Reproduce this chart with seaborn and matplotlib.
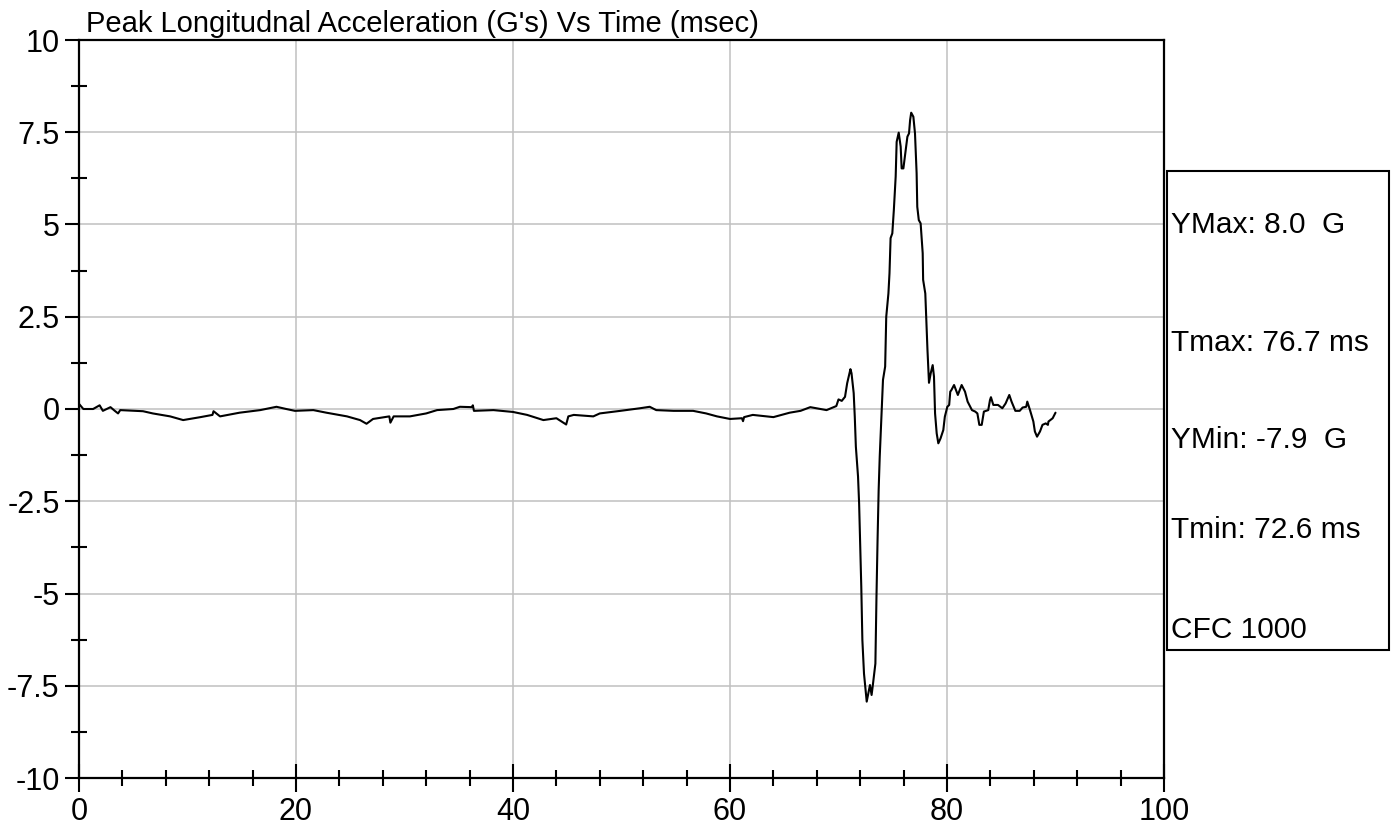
import numpy as np
import pandas as pd
import seaborn as sns
import matplotlib.pyplot as plt
from matplotlib.patches import Rectangle
from matplotlib.ticker import MultipleLocator, FuncFormatter

# Time (msec) and acceleration (G), in three stretches
# pre-impact baseline
t_base = [
    0.0, 0.4, 1.3, 1.9, 2.2, 2.9, 3.3, 3.6, 3.8, 5.9,
    6.8, 8.4, 9.6, 10.2, 11.2, 12.3, 12.4, 13.0, 14.8, 16.7,
    18.2, 19.1, 19.9, 21.6, 22.8, 24.7, 25.9, 26.5, 27.1, 28.6,
    28.7, 29.0, 30.5, 32.0, 33.0, 34.5, 35.1, 36.2, 36.3, 36.4,
    38.2, 40.0, 41.3, 42.8, 44.0, 44.9, 45.1, 45.6, 47.4, 48.0,
    49.9, 51.7, 52.6, 53.2, 54.8, 56.6, 57.8, 58.8, 60.0, 61.1,
    61.2, 61.3, 62.1, 64.0, 65.5, 66.5, 67.4, 68.9, 69.8, 70.0]
g_base = [
    0.14, 0.00, 0.00, 0.10, -0.05, 0.05, -0.05, -0.12, -0.03, -0.06,
    -0.12, -0.20, -0.30, -0.27, -0.22, -0.16, -0.06, -0.20, -0.10, -0.03,
    0.06, 0.00, -0.05, -0.03, -0.10, -0.20, -0.30, -0.40, -0.27, -0.20,
    -0.37, -0.20, -0.20, -0.12, -0.03, 0.00, 0.06, 0.05, 0.10, -0.05,
    -0.03, -0.08, -0.16, -0.30, -0.25, -0.42, -0.20, -0.16, -0.20, -0.12,
    -0.05, 0.02, 0.06, -0.03, -0.05, -0.05, -0.12, -0.20, -0.27, -0.25,
    -0.33, -0.22, -0.16, -0.22, -0.10, -0.05, 0.05, -0.03, 0.08, 0.26]

# main pulse
t_pulse = [
    70.3, 70.6, 70.8, 71.1, 71.2, 71.4, 71.5, 71.6, 71.8, 71.9,
    72.0, 72.1, 72.2, 72.35, 72.6, 72.75, 72.9, 73.05, 73.15, 73.4,
    73.5, 73.6, 73.7, 73.8, 73.97, 74.1, 74.3, 74.4, 74.6, 74.7,
    74.8, 74.96, 75.1, 75.27, 75.36, 75.55, 75.73, 75.82, 75.98, 76.2,
    76.35, 76.5, 76.6, 76.7, 76.9, 77.05, 77.2, 77.26, 77.4, 77.57,
    77.76, 77.8, 78.0, 78.2, 78.34, 78.5, 78.68, 78.8]
g_pulse = [
    0.22, 0.33, 0.70, 1.08, 0.97, 0.43, -0.21, -1.02, -1.83, -2.56,
    -3.73, -4.82, -6.26, -7.17, -7.93, -7.70, -7.48, -7.75, -7.52, -6.90,
    -5.09, -3.55, -2.20, -1.29, -0.12, 0.79, 1.15, 2.50, 3.13, 3.68,
    4.63, 4.76, 5.39, 6.30, 7.24, 7.49, 7.11, 6.52, 6.52, 7.02,
    7.38, 7.47, 7.83, 8.03, 7.92, 7.47, 6.39, 5.48, 5.12, 5.03,
    4.22, 3.50, 3.13, 1.60, 0.71, 0.97, 1.19, 0.88]

# rebound / settling
t_tail = [
    78.9, 79.05, 79.2, 79.4, 79.66, 79.8, 80.03, 80.2, 80.3, 80.4,
    80.65, 81.0, 81.35, 81.66, 81.9, 82.3, 82.6, 82.8, 82.98, 83.2,
    83.4, 83.8, 83.96, 84.05, 84.27, 84.7, 85.1, 85.4, 85.74, 85.95,
    86.3, 86.7, 86.97, 87.3, 87.4, 87.65, 87.96, 88.1, 88.3, 88.57,
    88.8, 89.1, 89.3, 89.35, 89.74, 90.0]
g_tail = [
    -0.12, -0.66, -0.93, -0.80, -0.57, -0.21, 0.06, 0.11, 0.47, 0.51,
    0.65, 0.38, 0.65, 0.47, 0.20, -0.03, -0.07, -0.12, -0.43, -0.43,
    -0.07, -0.03, 0.24, 0.32, 0.11, 0.11, 0.02, 0.15, 0.38, 0.20,
    -0.05, -0.05, 0.04, 0.06, 0.20, -0.03, -0.34, -0.61, -0.75, -0.61,
    -0.43, -0.39, -0.43, -0.34, -0.25, -0.10]

stats_lines = ["YMax: 8.0  G", "Tmax: 76.7 ms", "YMin: -7.9  G",
               "Tmin: 72.6 ms", "CFC 1000"]
title = "Peak Longitudnal Acceleration (G's) Vs Time (msec)"

df = pd.DataFrame({
    "time": np.concatenate([t_base, t_pulse, t_tail]),
    "accel": np.concatenate([g_base, g_pulse, g_tail]),
})

sns.set_style("white", {"xtick.bottom": True, "ytick.left": True,
                        "text.color": "black", "xtick.color": "black",
                        "ytick.color": "black"})
plt.rcParams['font.family'] = ['Liberation Sans', 'DejaVu Sans']
plt.rcParams['axes.unicode_minus'] = False

W, H = 1392, 827
fig = plt.figure(figsize=(W / 100, H / 100), dpi=100)
ax = fig.add_axes([79 / W, 1 - 778 / H, (1164 - 79) / W, (778 - 40) / H])

sns.lineplot(data=df, x="time", y="accel", sort=False, estimator=None,
             color="black", linewidth=1.5, ax=ax, zorder=3)

ax.set_xlim(0, 100)
ax.set_ylim(-10, 10)
ax.xaxis.set_major_locator(MultipleLocator(20))
ax.xaxis.set_minor_locator(MultipleLocator(4))
ax.yaxis.set_major_locator(MultipleLocator(2.5))
ax.yaxis.set_minor_locator(MultipleLocator(1.25))
ax.yaxis.set_major_formatter(FuncFormatter(lambda v, p: f"{v:g}"))
ax.set_xlabel("")
ax.set_ylabel("")

ax.grid(True, which="major", color="#c0c0c0", linewidth=1.1, zorder=0)
ax.set_axisbelow(True)
for s in ax.spines.values():
    s.set_color("black")
    s.set_linewidth(1.6)
    s.set_visible(True)

ax.tick_params(axis="x", which="major", direction="inout", length=20,
               width=1.5, color="black", labelcolor="black", labelsize=22,
               pad=4)
ax.tick_params(axis="x", which="minor", direction="inout", length=11,
               width=1.5, color="black", bottom=True)
ax.tick_params(axis="y", which="major", direction="out", length=10,
               width=1.5, color="black", labelcolor="black", labelsize=22,
               pad=4)
ax.tick_params(axis="y", which="minor", direction="inout", length=11.5,
               width=1.5, color="black", left=True)

fig.text(86 / W, 1 - 32 / H, title, fontsize=21, va="baseline", ha="left",
         color="black")

# stats box to the right of the plot
fig.add_artist(Rectangle((1167 / W, 1 - 650 / H), (1389 - 1167) / W,
                         (650 - 171) / H, transform=fig.transFigure,
                         fill=False, edgecolor="black", linewidth=1.5))
for txt, yc in zip(stats_lines, [225, 343, 440, 530, 630]):
    fig.text(1171 / W, 1 - yc / H, txt, fontsize=21.5, va="center",
             ha="left", color="black")

fig.savefig("out.png", dpi=100)
